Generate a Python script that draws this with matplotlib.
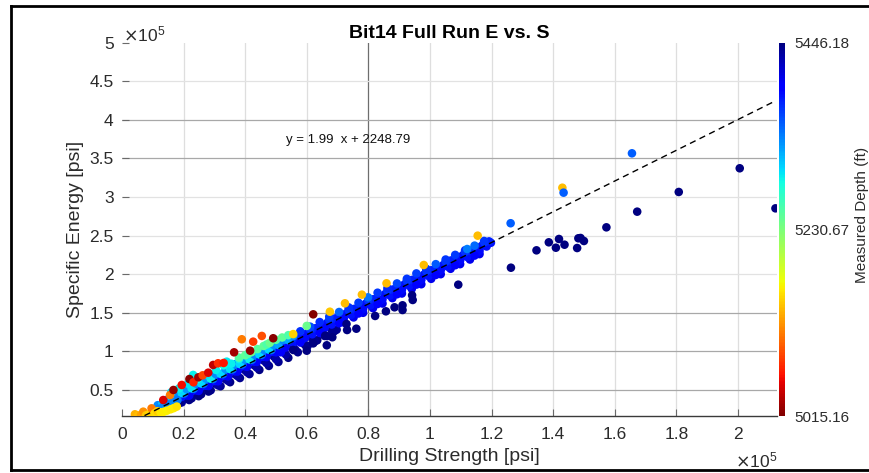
import numpy as np
import matplotlib
matplotlib.use("Agg")
import matplotlib.pyplot as plt
from matplotlib.lines import Line2D
from matplotlib.colors import Normalize

plt.rcParams['font.family'] = ['Liberation Sans', 'DejaVu Sans']

# ---- data (strength / energy in units of 1e5 psi, depth in ft) ----
# main trend, core of the band
core_s = [0.194, 0.210, 0.226, 0.241, 0.257, 0.273, 0.288, 0.304, 0.320, 0.336,
          0.351, 0.367, 0.383, 0.398, 0.414, 0.430, 0.446, 0.461, 0.477, 0.493,
          0.508, 0.524, 0.540, 0.556, 0.571, 0.587, 0.603, 0.618, 0.634, 0.650,
          0.666, 0.681, 0.697, 0.713, 0.728, 0.744, 0.760, 0.776, 0.791, 0.807,
          0.823, 0.838, 0.854, 0.870, 0.886, 0.901, 0.917, 0.933, 0.948, 0.964,
          0.980, 0.996, 1.011, 1.027, 1.043, 1.058, 1.074, 1.090, 1.106, 1.121,
          1.137, 1.153, 1.168, 1.184, 1.198]
core_e = [0.409, 0.430, 0.482, 0.497, 0.544, 0.556, 0.601, 0.617, 0.669, 0.686,
          0.731, 0.743, 0.795, 0.810, 0.856, 0.868, 0.920, 0.930, 0.982, 0.994,
          1.053, 1.045, 1.117, 1.109, 1.179, 1.161, 1.242, 1.222, 1.304, 1.286,
          1.368, 1.348, 1.430, 1.411, 1.491, 1.473, 1.555, 1.537, 1.617, 1.598,
          1.680, 1.660, 1.742, 1.724, 1.806, 1.786, 1.867, 1.849, 1.929, 1.911,
          1.993, 1.975, 2.054, 2.036, 2.118, 2.098, 2.180, 2.162, 2.243, 2.223,
          2.305, 2.287, 2.367, 2.359, 2.407]
core_d = [5385] * len(core_s)

# second and third passes through the band, staggered between the core points
mid_s = [0.202, 0.233, 0.265, 0.296, 0.328, 0.359, 0.391, 0.422, 0.454, 0.485,
         0.516, 0.548, 0.579, 0.611, 0.642, 0.673, 0.705, 0.736, 0.768, 0.799,
         0.830, 0.862, 0.893, 0.925, 0.956, 0.988, 1.019, 1.051, 1.082, 1.114,
         1.145, 1.176]
mid_e = [0.454, 0.516, 0.580, 0.642, 0.705, 0.767, 0.831, 0.892, 0.956, 1.018,
         0.989, 1.163, 1.115, 1.288, 1.240, 1.412, 1.365, 1.537, 1.491, 1.662,
         1.614, 1.788, 1.740, 1.913, 1.865, 2.039, 1.990, 2.164, 2.116, 2.289,
         2.241, 2.413]
mid_d = [5350, 5345, 5350, 5345, 5350, 5345, 5350, 5345, 5350, 5345,
         5395, 5370, 5395, 5370, 5395, 5370, 5395, 5370, 5395, 5370,
         5395, 5370, 5395, 5370, 5395, 5370, 5395, 5370, 5395, 5370,
         5395, 5370]

fill_s = [0.218, 0.249, 0.281, 0.312, 0.344, 0.375, 0.406, 0.438, 0.469, 0.500,
          0.532, 0.563, 0.595, 0.626, 0.658, 0.689, 0.720, 0.752, 0.783, 0.815,
          0.846, 0.878, 0.909, 0.941, 0.972, 1.004, 1.035, 1.067, 1.098, 1.130,
          1.161, 1.192]
fill_e = [0.426, 0.488, 0.552, 0.613, 0.677, 0.739, 0.800, 0.864, 0.926, 0.988,
          1.051, 1.173, 1.177, 1.298, 1.302, 1.424, 1.425, 1.549, 1.551, 1.674,
          1.676, 1.800, 1.801, 1.925, 1.927, 2.050, 2.052, 2.176, 2.178, 2.301,
          2.303, 2.425]
fill_d = [5400, 5400, 5400, 5400, 5400, 5400, 5400, 5400, 5400, 5400,
          5400, 5378, 5388, 5378, 5388, 5378, 5388, 5378, 5388, 5378,
          5388, 5378, 5388, 5378, 5388, 5378, 5388, 5378, 5388, 5378,
          5388, 5378]

# upper edge of the band
upper_s = [0.548, 0.579, 0.611, 0.642, 0.673, 0.705, 0.736, 0.768, 0.799, 0.830,
           0.862, 0.893, 0.925, 0.956, 0.988, 1.019, 1.051, 1.082, 1.114, 1.145, 1.176]
upper_e = [1.19, 1.26, 1.32, 1.38, 1.45, 1.51, 1.57, 1.63, 1.70, 1.76,
           1.82, 1.88, 1.94, 2.01, 2.07, 2.13, 2.19, 2.25, 2.31, 2.37, 2.43]
upper_d = [5368, 5372, 5360, 5375, 5366, 5350, 5372, 5368, 5345, 5370,
           5374, 5362, 5370, 5366, 5372, 5355, 5370, 5368, 5372, 5348, 5370]

# lower edge of the band
lower_s = [0.720, 0.752, 0.783, 0.815, 0.846, 0.878, 0.909, 0.941, 0.972, 1.004,
           1.035, 1.067, 1.098, 1.130, 1.161]
lower_e = [1.375, 1.44, 1.50, 1.56, 1.62, 1.69, 1.75, 1.81, 1.87, 1.94,
           2.00, 2.07, 2.13, 2.19, 2.26]
lower_d = [5405] * len(lower_s)

# shallower light-blue / cyan section above the trend
light_s = [0.100, 0.116, 0.131, 0.147, 0.163, 0.178, 0.194, 0.210, 0.226, 0.241,
           0.257, 0.273, 0.288, 0.304, 0.320, 0.336, 0.351, 0.367, 0.383, 0.398,
           0.414, 0.430, 0.446, 0.461, 0.477, 0.493, 0.508, 0.524, 0.540, 0.556,
           0.105, 0.120, 0.135, 0.150, 0.165, 0.180]
light_e = [0.252, 0.303, 0.323, 0.375, 0.397, 0.447, 0.459, 0.510, 0.522, 0.582,
           0.584, 0.646, 0.646, 0.707, 0.709, 0.771, 0.771, 0.833, 0.835, 0.895,
           0.896, 0.958, 0.960, 1.020, 1.022, 1.084, 1.083, 1.145, 1.147, 1.199,
           0.230, 0.255, 0.290, 0.310, 0.345, 0.370]
light_d = [5300, 5335, 5310, 5330, 5295, 5335, 5300, 5330, 5295, 5335,
           5300, 5330, 5290, 5335, 5300, 5330, 5295, 5335, 5300, 5330,
           5290, 5335, 5300, 5335, 5300, 5330, 5320, 5335, 5320, 5330,
           5335, 5340, 5335, 5340, 5335, 5340]

cyan_s = [0.160, 0.185, 0.215, 0.231, 0.245, 0.275, 0.305, 0.330, 0.340, 0.355, 0.380]
cyan_e = [0.470, 0.520, 0.580, 0.695, 0.640, 0.700, 0.760, 0.820, 0.867, 0.840, 0.900]
cyan_d = [5295, 5290, 5295, 5290, 5285, 5295, 5290, 5285, 5292, 5290, 5288]

green_s = [0.380, 0.400, 0.410, 0.420, 0.440, 0.460, 0.470, 0.480, 0.500, 0.520, 0.540, 0.600]
green_e = [0.920, 0.950, 0.970, 0.990, 1.030, 1.070, 1.090, 1.110, 1.150, 1.180, 1.210, 1.330]
green_d = [5250, 5245, 5255, 5240, 5250, 5245, 5255, 5240, 5250, 5245, 5255, 5240]

# deepest section, falling below the trend
navy_s = [0.178, 0.194, 0.210, 0.226, 0.241, 0.257, 0.273, 0.288, 0.304, 0.320,
          0.336, 0.351, 0.367, 0.383, 0.398, 0.414, 0.430, 0.446, 0.461, 0.477,
          0.493, 0.508, 0.524, 0.540, 0.556, 0.571, 0.587, 0.603, 0.618, 0.634,
          0.650, 0.666, 0.681, 0.697,
          0.312, 0.344, 0.375, 0.406, 0.438, 0.469, 0.500, 0.532,
          0.186, 0.218, 0.249, 0.281, 0.563, 0.595, 0.626, 0.658, 0.689]
navy_e = [0.347, 0.339, 0.405, 0.392, 0.462, 0.444, 0.526, 0.496, 0.582, 0.549,
          0.641, 0.601, 0.703, 0.655, 0.760, 0.706, 0.818, 0.760, 0.880, 0.812,
          0.934, 0.863, 0.995, 0.917, 1.049, 0.989, 1.111, 1.072, 1.162, 1.144,
          1.226, 1.198, 1.278, 1.280,
          0.560, 0.620, 0.680, 0.730, 0.790, 0.850, 0.900, 0.960,
          0.330, 0.370, 0.420, 0.480, 1.020, 1.080, 1.130, 1.200, 1.260]
navy_d = [5440, 5436, 5442, 5438, 5440, 5444, 5436, 5440, 5442, 5438,
          5440, 5444, 5436, 5440, 5442, 5438, 5440, 5444, 5436, 5440,
          5442, 5438, 5440, 5444, 5436, 5440, 5442, 5438, 5440, 5444,
          5436, 5440, 5442, 5438,
          5430, 5432, 5430, 5432, 5430, 5432, 5430, 5432,
          5444, 5444, 5444, 5444, 5440, 5440, 5440, 5440, 5440]

# shallow start of the run
start_s = [0.042, 0.052, 0.062, 0.069, 0.078, 0.088, 0.096, 0.106, 0.115, 0.125,
           0.136, 0.146, 0.158, 0.168, 0.178]
start_e = [0.185, 0.168, 0.178, 0.219, 0.172, 0.188, 0.262, 0.198, 0.225, 0.212,
           0.218, 0.232, 0.250, 0.265, 0.285]
start_d = [5135, 5140, 5128, 5120, 5145, 5150, 5110, 5155, 5148, 5160,
           5162, 5165, 5160, 5162, 5158]

# shallow points sitting above the trend
red_s = [0.134, 0.156, 0.167, 0.194, 0.219, 0.232, 0.248, 0.262, 0.280, 0.296,
         0.312, 0.330, 0.364, 0.389, 0.416, 0.426, 0.454, 0.491, 0.621]
red_e = [0.370, 0.435, 0.500, 0.565, 0.642, 0.600, 0.664, 0.690, 0.724, 0.824,
         0.846, 0.850, 0.988, 1.157, 1.009, 1.126, 1.200, 1.170, 1.480]
red_d = [5050, 5110, 5025, 5060, 5020, 5070, 5030, 5085, 5050, 5040,
         5075, 5065, 5030, 5110, 5022, 5080, 5090, 5020, 5018]

orange_s = [0.556, 0.675, 0.724, 0.779, 0.859, 0.980, 1.155, 1.430]
orange_e = [1.224, 1.514, 1.623, 1.735, 1.882, 2.119, 2.499, 3.120]
orange_d = [5150, 5145, 5140, 5140, 5140, 5140, 5140, 5140]

# deep points well below the trend
deep_s = [0.556, 0.600, 0.621, 0.665, 0.660, 0.683, 0.731, 0.729, 0.761, 0.822,
          0.857, 0.885, 0.911, 0.911, 0.944, 0.942, 1.092, 1.263, 1.346, 1.386,
          1.419, 1.409, 1.437, 1.482, 1.489, 1.500, 1.478, 1.573, 1.673, 1.808,
          2.006, 2.122]
deep_e = [1.018, 1.009, 1.104, 1.079, 1.204, 1.183, 1.277, 1.355, 1.294, 1.459,
          1.519, 1.571, 1.536, 1.597, 1.666, 1.727, 1.864, 2.084, 2.309, 2.413,
          2.456, 2.343, 2.382, 2.465, 2.469, 2.430, 2.339, 2.607, 2.810, 3.065,
          3.372, 2.853]
deep_d = [5446] * len(deep_s)

bluept_s = [1.121, 1.262, 1.434, 1.656]
bluept_e = [2.326, 2.660, 3.056, 3.566]
bluept_d = [5340, 5352, 5352, 5353]

# linear fit  E = slope * S + intercept
fit_slope = 1.99
fit_intercept = 2248.79          # psi
depth_min, depth_max = 5015.16, 5446.18
cbar_ticks = [5015.16, 5230.67, 5446.18]
x_ticks = [0, 0.2, 0.4, 0.6, 0.8, 1.0, 1.2, 1.4, 1.6, 1.8, 2.0]
y_ticks = [0.5, 1, 1.5, 2, 2.5, 3, 3.5, 4, 4.5, 5]
SCALE = 1e5

groups = [
    (navy_s, navy_e, navy_d),
    (lower_s, lower_e, lower_d),
    (core_s, core_e, core_d),
    (fill_s, fill_e, fill_d),
    (mid_s, mid_e, mid_d),
    (upper_s, upper_e, upper_d),
    (light_s, light_e, light_d),
    (cyan_s, cyan_e, cyan_d),
    (green_s, green_e, green_d),
    (start_s, start_e, start_d),
    (red_s, red_e, red_d),
    (orange_s, orange_e, orange_d),
    (deep_s, deep_e, deep_d),
    (bluept_s, bluept_e, bluept_d),
]
S = np.concatenate([np.asarray(g[0], float) for g in groups])
E = np.concatenate([np.asarray(g[1], float) for g in groups])
D = np.concatenate([np.asarray(g[2], float) for g in groups])

# ---- figure ----
W, H = 869, 473
fig = plt.figure(figsize=(W / 100, H / 100), dpi=100)

def fx(px):
    return px / W

def fy(py):
    return 1 - py / H

ax_l, ax_r, ax_t, ax_b = 122, 777, 42.6, 416
ax = fig.add_axes([fx(ax_l), fy(ax_b), fx(ax_r - ax_l), (ax_b - ax_t) / H])

norm = Normalize(vmin=depth_min, vmax=depth_max)
sc = ax.scatter(S, E, c=D, cmap='jet_r', norm=norm, s=38, linewidths=0, zorder=3)

xs = np.array([S.min(), S.max()])
ax.plot(xs, fit_slope * xs + fit_intercept / SCALE, color='black', lw=1.0,
        dashes=(4.5, 3.2), zorder=4)

ax.text(0.532, 3.738, f"y = {fit_slope:.2f}  x + {fit_intercept:.2f}",
        fontsize=9.5, ha='left', va='center', color='#111111', zorder=5)

ax.set_xlim(0, 2.127)
ax.set_ylim(0.163, 5.0)
ax.set_xticks(x_ticks)
ax.set_xticklabels(['0', '0.2', '0.4', '0.6', '0.8', '1', '1.2', '1.4', '1.6', '1.8', '2'])
ax.set_yticks(y_ticks)
ax.set_yticklabels(['0.5', '1', '1.5', '2', '2.5', '3', '3.5', '4', '4.5', '5'])

for xv in x_ticks[1:]:
    c = '#6e6e6e' if xv == 0.8 else '#dedede'
    ax.axvline(xv, color=c, lw=0.9, zorder=1)
for yv in y_ticks[:-1]:
    c = '#a8a8a8' if yv in (0.5, 1, 1.5, 3.5, 4) else '#e2e2e2'
    ax.axhline(yv, color=c, lw=0.9, zorder=1)

for side in ('top', 'right', 'left'):
    ax.spines[side].set_visible(False)
ax.spines['bottom'].set_color('#3a3a3a')
ax.spines['bottom'].set_linewidth(1.0)
ax.tick_params(axis='both', direction='in', length=5, width=0.8, colors='#6a6a6a',
               labelcolor='#2b2b2b', labelsize=12.5)
ax.tick_params(axis='x', pad=8)
ax.tick_params(axis='y', pad=6)

ax.set_title("Bit14 Full Run E vs. S", fontsize=14, fontweight='bold',
             color='black', pad=3)
ax.set_xlabel("Drilling Strength [psi]", fontsize=14, color='#2b2b2b', labelpad=4)
ax.set_ylabel("Specific Energy [psi]", fontsize=14, color='#2b2b2b', labelpad=4)

fig.text(fx(123), fy(34), r'$\times\mathregular{10^{5}}$', fontsize=12.5,
         color='#2b2b2b', ha='left', va='center')
fig.text(fx(777), fy(460), r'$\times\mathregular{10^{5}}$', fontsize=12.5,
         color='#2b2b2b', ha='right', va='center')

# colorbar
cax = fig.add_axes([fx(779), fy(ax_b), fx(6), (ax_b - ax_t) / H])
cb = fig.colorbar(sc, cax=cax)
cb.outline.set_visible(False)
cb.set_ticks(cbar_ticks)
cb.set_ticklabels([f"{t:.2f}" for t in cbar_ticks])
cax.tick_params(length=0, pad=7, labelsize=11, labelcolor='#2b2b2b')
fig.text(fx(862), fy(215), "Measured Depth (ft)", rotation=90, fontsize=11,
         color='#2b2b2b', ha='center', va='center')

# frame around the figure
for (x0, y0, x1, y1) in [(11, 6, W, 6), (11, 6, 11, 470), (11, 470, W, 470)]:
    fig.add_artist(Line2D([fx(x0), fx(x1)], [fy(y0), fy(y1)],
                          transform=fig.transFigure, color='black', lw=2.0))

fig.savefig("out.png", dpi=100)
